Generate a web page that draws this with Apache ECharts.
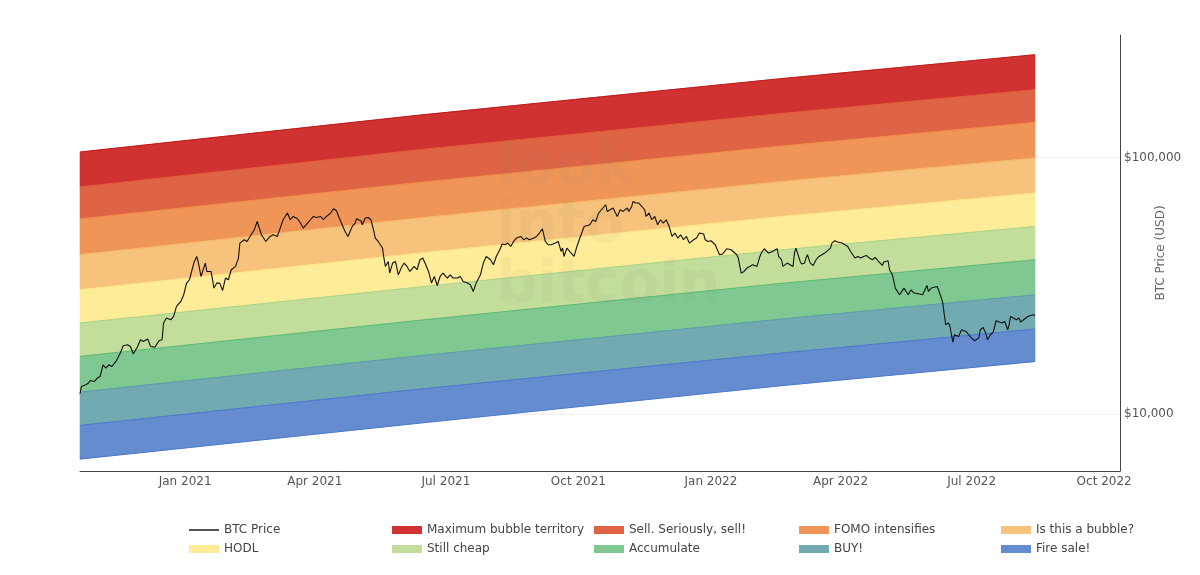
<!DOCTYPE html>
<html>
<head>
<meta charset="utf-8">
<script src="https://cdn.jsdelivr.net/npm/echarts@6/dist/echarts.min.js"></script>
<style>
html,body{margin:0;padding:0;background:#ffffff;}
#chart{width:1200px;height:575px;}
</style>
</head>
<body>
<div id="chart"></div>
<script>
// ---------- DATA ----------
// Rainbow band boundaries (USD), read at these dates
const bandDates = ['2020-10-20', '2021-06-13', '2022-02-18', '2022-08-14'];
const bound0 = [104950, 146200, 202600, 251300]; // top of "Maximum bubble territory"
const bound1 = [76660, 107150, 148000, 183500];
const bound2 = [57540, 79890, 110500, 136900];
const bound3 = [41760, 58040, 80400, 99450];
const bound4 = [30500, 42400, 58730, 72650];
const bound5 = [22630, 31280, 43560, 53830];
const bound6 = [16770, 23200, 32260, 39930];
const bound7 = [12180, 16870, 23420, 29170];
const bound8 = [9030, 12510, 17260, 21440];
const bound9 = [6677, 9225, 12890, 16030];  // bottom of "Fire sale!"

const bandNames = ['Maximum bubble territory', 'Sell. Seriously, sell!', 'FOMO intensifies',
  'Is this a bubble?', 'HODL', 'Still cheap', 'Accumulate', 'BUY!', 'Fire sale!'];
const bandFill = ['#cf3230', '#df6446', '#f09558', '#f7c27b', '#feec99', '#c3de9b', '#80c891', '#72aab1', '#668cd0'];
const bandEdge = ['#c01a1a', '#e45a36', '#f28a45', '#f6b866', '#fbe584', '#a9d486', '#5dba74', '#5b9ca8', '#4a78cc'];

const btcDates = [
'2020-10-20','2020-10-21','2020-10-24','2020-10-26','2020-10-27','2020-10-30','2020-11-01','2020-11-03','2020-11-05','2020-11-07',
'2020-11-09','2020-11-11','2020-11-14','2020-11-15','2020-11-17','2020-11-19','2020-11-22','2020-11-24','2020-11-25','2020-11-26',
'2020-11-29','2020-12-01','2020-12-03','2020-12-06','2020-12-08','2020-12-11','2020-12-14','2020-12-16','2020-12-17','2020-12-19',
'2020-12-22','2020-12-24','2020-12-26','2020-12-29','2020-12-31','2021-01-02','2021-01-04','2021-01-07','2021-01-09','2021-01-10',
'2021-01-12','2021-01-15','2021-01-16','2021-01-19','2021-01-20','2021-01-21','2021-01-23','2021-01-25','2021-01-27','2021-01-29',
'2021-01-31','2021-02-02','2021-02-05','2021-02-07','2021-02-08','2021-02-09','2021-02-11','2021-02-13','2021-02-15','2021-02-18',
'2021-02-20','2021-02-21','2021-02-23','2021-02-26','2021-02-27','2021-03-01','2021-03-03','2021-03-06','2021-03-08','2021-03-10',
'2021-03-13','2021-03-15','2021-03-17','2021-03-20','2021-03-22','2021-03-24','2021-03-27','2021-03-29','2021-03-31','2021-04-02',
'2021-04-05','2021-04-07','2021-04-09','2021-04-12','2021-04-14','2021-04-16','2021-04-18','2021-04-20','2021-04-22','2021-04-24',
'2021-04-27','2021-04-29','2021-04-30','2021-05-03','2021-05-04','2021-05-06','2021-05-08','2021-05-10','2021-05-12','2021-05-13',
'2021-05-15','2021-05-18','2021-05-19','2021-05-20','2021-05-22','2021-05-23','2021-05-25','2021-05-27','2021-05-29','2021-05-31',
'2021-06-02','2021-06-04','2021-06-06','2021-06-09','2021-06-11','2021-06-13','2021-06-15','2021-06-17','2021-06-19','2021-06-21',
'2021-06-23','2021-06-25','2021-06-27','2021-06-29','2021-07-02','2021-07-04','2021-07-06','2021-07-09','2021-07-11','2021-07-13',
'2021-07-16','2021-07-18','2021-07-20','2021-07-22','2021-07-25','2021-07-27','2021-07-29','2021-08-01','2021-08-03','2021-08-05',
'2021-08-08','2021-08-09','2021-08-11','2021-08-13','2021-08-15','2021-08-17','2021-08-19','2021-08-22','2021-08-24','2021-08-26',
'2021-08-28','2021-08-31','2021-09-02','2021-09-04','2021-09-06','2021-09-08','2021-09-10','2021-09-12','2021-09-15','2021-09-17',
'2021-09-19','2021-09-20','2021-09-21','2021-09-23','2021-09-26','2021-09-28','2021-09-30','2021-10-02','2021-10-03','2021-10-05',
'2021-10-09','2021-10-11','2021-10-13','2021-10-15','2021-10-17','2021-10-20','2021-10-21','2021-10-25','2021-10-28','2021-10-30',
'2021-11-01','2021-11-04','2021-11-05','2021-11-07','2021-11-08','2021-11-10','2021-11-12','2021-11-13','2021-11-16','2021-11-17',
'2021-11-19','2021-11-21','2021-11-23','2021-11-25','2021-11-27','2021-11-29','2021-12-01','2021-12-03','2021-12-05','2021-12-07',
'2021-12-09','2021-12-11','2021-12-13','2021-12-15','2021-12-17','2021-12-20','2021-12-22','2021-12-24','2021-12-27','2021-12-28',
'2021-12-30','2022-01-01','2022-01-04','2022-01-06','2022-01-07','2022-01-09','2022-01-12','2022-01-15','2022-01-19','2022-01-20',
'2022-01-22','2022-01-24','2022-01-26','2022-01-28','2022-01-30','2022-02-02','2022-02-03','2022-02-04','2022-02-05','2022-02-07',
'2022-02-10','2022-02-12','2022-02-16','2022-02-17','2022-02-19','2022-02-20','2022-02-21','2022-02-23','2022-02-27','2022-02-28',
'2022-03-01','2022-03-02','2022-03-04','2022-03-05','2022-03-07','2022-03-08','2022-03-09','2022-03-11','2022-03-13','2022-03-15',
'2022-03-17','2022-03-19','2022-03-21','2022-03-22','2022-03-25','2022-03-26','2022-03-28','2022-03-30','2022-04-02','2022-04-06',
'2022-04-08','2022-04-09','2022-04-11','2022-04-13','2022-04-15','2022-04-17','2022-04-19','2022-04-21','2022-04-23','2022-04-25',
'2022-04-27','2022-04-28','2022-04-30','2022-05-01','2022-05-04','2022-05-05','2022-05-07','2022-05-09','2022-05-12','2022-05-15',
'2022-05-18','2022-05-20','2022-05-22','2022-05-26','2022-05-28','2022-05-31','2022-06-01','2022-06-03','2022-06-07','2022-06-08',
'2022-06-10','2022-06-11','2022-06-12','2022-06-13','2022-06-15','2022-06-16','2022-06-17','2022-06-18','2022-06-19','2022-06-22',
'2022-06-24','2022-06-25','2022-06-27','2022-06-29','2022-07-01','2022-07-03','2022-07-06','2022-07-07','2022-07-09','2022-07-11',
'2022-07-12','2022-07-14','2022-07-16','2022-07-18','2022-07-19','2022-07-22','2022-07-24','2022-07-26','2022-07-27','2022-07-28',
'2022-07-30','2022-08-01','2022-08-03','2022-08-04','2022-08-06','2022-08-07','2022-08-09','2022-08-11','2022-08-13','2022-08-14'
];
const btcPrices = [
12000,12810,13010,13210,13520,13400,13810,14010,15560,15110,
15560,15320,16030,16170,17290,18450,18620,18340,18620,17140,
18340,19470,19180,19600,18340,18240,19360,19470,22630,23660,
23300,24010,26270,27470,29170,32390,33370,38760,41130,39320,
34370,38760,35950,35950,35440,30970,32390,32390,30310,33880,
33370,36510,37610,40540,46380,46500,47780,47060,49220,52260,
56300,57170,49970,47060,46380,49220,49970,49220,53060,57170,
60710,57170,58890,57680,55500,53060,55500,57170,58890,58360,
58890,57170,58890,60710,63110,61990,58040,54660,51470,49220,
53830,55500,57680,56660,54660,58040,58360,57170,51470,48520,
47060,44350,40540,37610,39320,35440,38760,39320,34900,37070,
38760,37610,35950,37610,36510,39930,40540,38180,35950,32390,
34370,31700,34370,35440,33880,34900,33880,33880,34370,32870,
32390,31900,30040,32390,34900,38760,41130,39930,38180,41130,
44350,45970,45690,46380,44990,47060,48520,49220,47780,48520,
47780,48520,49220,50750,52740,47060,45690,45690,46380,47060,
43020,44350,41130,44350,42400,41130,44990,48520,49220,53830,
54660,57170,56300,60710,62550,65410,61600,63500,58890,62550,
61600,63500,61600,64420,67370,66420,66420,65410,62550,58890,
60710,57170,58890,54660,57170,55500,57170,53830,49220,50750,
48520,49970,47780,49220,46380,47780,48520,50750,50290,47780,
47060,47350,45690,43020,41760,42020,44080,43690,41760,40540,
35440,35950,37070,37610,38180,37610,37070,41130,42400,44080,
42400,42790,44080,41130,39930,37610,37270,38760,37610,42400,
44350,43690,39320,38420,38760,40540,41760,38760,37940,39930,
41130,41760,42400,43020,44350,46380,47350,46810,46380,44990,
43020,42400,40540,41130,40540,41130,41500,40540,39930,40760,
39570,39320,37940,39110,39570,36510,34900,30970,29170,30970,
29170,30500,29620,29350,29170,31700,30040,30970,31420,30500,
28310,27070,24380,22280,22630,21940,20370,19080,20370,20060,
21310,21500,20980,20370,19780,19310,19780,21310,21750,20500,
19470,20370,20870,23100,23300,22630,22950,21310,22280,24010,
23660,23300,23660,22830,23300,23660,24010,24230,24380,24230
];

const xTickMonths = [0, 3, 6, 9];           // quarter months labelled (Jan, Apr, Jul, Oct)
const yTickValues = [10000, 100000];
const monthNames = ['Jan','Feb','Mar','Apr','May','Jun','Jul','Aug','Sep','Oct','Nov','Dec'];
const legendColumns = [
  ['BTC Price', 'HODL'],
  ['Maximum bubble territory', 'Still cheap'],
  ['Sell. Seriously, sell!', 'Accumulate'],
  ['FOMO intensifies', 'BUY!'],
  ['Is this a bubble?', 'Fire sale!']
];

// ---------- CHART ----------
const bounds = [bound0, bound1, bound2, bound3, bound4, bound5, bound6, bound7, bound8, bound9];
const FONT = 'DejaVu Sans';
const chart = echarts.init(document.getElementById('chart'));

function bandSeries(i) {
  const data = bandDates.map((d, k) => [d, bounds[i][k], bounds[i + 1][k]]);
  const isLast = i === bandNames.length - 1;
  return {
    type: 'custom',
    name: bandNames[i],
    data: data,
    encode: { x: 0, y: [1, 2] },
    itemStyle: { color: bandFill[i] },
    silent: true,
    z: 2,
    renderItem: function (params, api) {
      if (params.dataIndexInside !== 0) return null;
      const n = params.dataInsideLength;
      const top = [], bot = [];
      for (let k = 0; k < n; k++) {
        top.push(api.coord([api.value(0, k), api.value(1, k)]));
        bot.push(api.coord([api.value(0, k), api.value(2, k)]));
      }
      const children = [
        { type: 'polygon', shape: { points: top.concat(bot.slice().reverse()) },
          style: { fill: bandFill[i], stroke: bandFill[i], lineWidth: 0.6 } },
        { type: 'polyline', shape: { points: top },
          style: { fill: null, stroke: bandEdge[i], lineWidth: 1 } }
      ];
      if (isLast) {
        children.push({ type: 'polyline', shape: { points: bot },
          style: { fill: null, stroke: bandEdge[i], lineWidth: 1 } });
      }
      return { type: 'group', children: children };
    }
  };
}

const series = bandNames.map((_, i) => bandSeries(i));
series.push({
  type: 'line',
  name: 'BTC Price',
  data: btcDates.map((d, i) => [d, btcPrices[i]]),
  showSymbol: false,
  symbol: 'none',
  lineStyle: { color: '#111111', width: 1.1 },
  itemStyle: { color: '#111111' },
  z: 5,
  silent: true
});

const legendLefts = [189, 392, 594, 799, 1001];
const legends = legendColumns.map((col, ci) => ({
  orient: 'vertical',
  left: legendLefts[ci],
  top: 524,
  padding: 0,
  itemGap: 7,
  itemWidth: 30,
  itemHeight: 8,
  selectedMode: false,
  textStyle: { fontFamily: FONT, fontSize: 12, color: '#444444' },
  data: col.map(name => name === 'BTC Price'
    ? { name: name, icon: 'path://M0,0 L30,0 L30,2 L0,2 Z', itemStyle: { color: '#555555' } }
    : { name: name, icon: 'rect' })
}));

const option = {
  backgroundColor: '#ffffff',
  animation: false,
  textStyle: { fontFamily: FONT },
  grid: { left: 80, right: 80, top: 35, bottom: 104, containLabel: false, outerBoundsMode: 'none' },
  legend: legends,
  graphic: [
    { type: 'text', left: 496, top: 140, z: 100, silent: true,
      style: { text: 'look', font: 'bold 58px "DejaVu Sans"', fill: 'rgba(120,120,120,0.06)' } },
    { type: 'text', left: 496, top: 198, z: 100, silent: true,
      style: { text: 'into', font: 'bold 58px "DejaVu Sans"', fill: 'rgba(120,120,120,0.06)' } },
    { type: 'text', left: 496, top: 258, z: 100, silent: true,
      style: { text: 'bitcoin', font: 'bold 58px "DejaVu Sans"', fill: 'rgba(120,120,120,0.06)' } }
  ],
  xAxis: {
    type: 'time',
    min: '2020-10-20',
    max: '2022-10-12',
    splitNumber: 24,
    axisLine: { show: true, lineStyle: { color: '#444444', width: 1 } },
    axisTick: { show: false },
    splitLine: { show: false },
    axisLabel: {
      color: '#555555', fontFamily: FONT, fontSize: 12, margin: 5,
      interval: 0, hideOverlap: false,
      formatter: function (val) {
        const d = new Date(val);
        if (d.getDate() !== 1 || d.getHours() !== 0 || xTickMonths.indexOf(d.getMonth()) < 0) return '';
        return monthNames[d.getMonth()] + ' ' + d.getFullYear();
      }
    }
  },
  yAxis: {
    type: 'log',
    logBase: 10,
    position: 'right',
    min: 6000,
    max: 300000,
    name: 'BTC Price (USD)',
    nameLocation: 'middle',
    nameGap: 35,
    nameMoveOverlap: false,
    nameTextStyle: { color: '#666666', fontFamily: FONT, fontSize: 12 },
    axisLine: { show: true, lineStyle: { color: '#444444', width: 1 } },
    axisTick: { show: false },
    splitLine: { show: true, showMinLine: false, showMaxLine: false, lineStyle: { color: '#eeeeee', width: 1 } },
    axisLabel: {
      color: '#555555', fontFamily: FONT, fontSize: 12, margin: 4,
      showMinLabel: false, showMaxLabel: false,
      formatter: function (v) {
        if (yTickValues.indexOf(Math.round(v)) < 0) return '';
        return '$' + Math.round(v).toLocaleString('en-US');
      }
    }
  },
  series: series
};
chart.setOption(option);
</script>
</body>
</html>
